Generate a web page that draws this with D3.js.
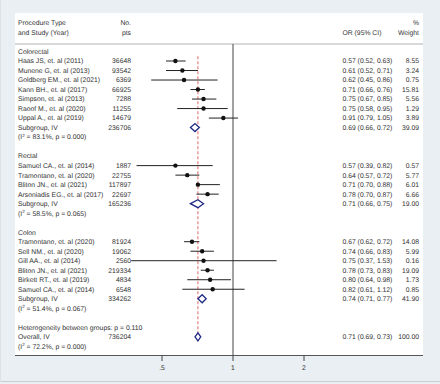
<!DOCTYPE html>
<meta charset="utf-8">
<script src="https://cdn.jsdelivr.net/npm/d3@7"></script>
<style>
  body { margin: 0; background: #fff; }
  text { font-family: "Liberation Sans", Arial, sans-serif; font-size: 6.8px; fill: #333; text-rendering: geometricPrecision; }
</style>
<body>
<script>

var width = 440
var height = 384

// subgroups
var groups = ["Colorectal", "Rectal", "Colon"]

// studies
var studyGroup = [0, 0, 0, 0, 0, 0, 0, 1, 1, 1, 1, 2, 2, 2, 2, 2, 2]
var studyNames = ["Haas JS, et. al (2011)", "Munene G, et. al (2013)", "Goldberg EM., et. al (2021)",
  "Kann BH., et. al (2017)", "Simpson, et. al (2013)", "Raoof M., et. al (2020)", "Uppal A., et. al (2019)",
  "Samuel CA., et. al (2014)", "Tramontano, et. al (2020)", "Bliton JN., et. al (2021)", "Arsoniadis EG., et. al (2017)",
  "Tramontano, et. al (2020)", "Sell NM., et. al (2020)", "Gill AA., et. al (2014)", "Bliton JN., et. al (2021)",
  "Birkett RT., et. al (2019)", "Samuel CA., et. al (2014)"]
var studyPts = [36648, 93542, 6369, 66925, 7288, 11255, 14679, 1887, 22755, 117897, 22697, 81924, 19062, 2560, 219334, 4834, 6548]
var studyOR = [0.57, 0.61, 0.62, 0.71, 0.75, 0.75, 0.91, 0.57, 0.64, 0.71, 0.78, 0.67, 0.74, 0.75, 0.78, 0.80, 0.82]
var studyLo = [0.52, 0.52, 0.45, 0.66, 0.67, 0.58, 0.79, 0.39, 0.57, 0.70, 0.70, 0.62, 0.66, 0.37, 0.73, 0.64, 0.61]
var studyHi = [0.63, 0.71, 0.86, 0.76, 0.85, 0.95, 1.05, 0.82, 0.72, 0.88, 0.87, 0.72, 0.83, 1.53, 0.83, 0.98, 1.12]
var studyWt = [8.55, 3.24, 0.75, 15.81, 5.56, 1.29, 3.89, 0.57, 5.77, 6.01, 6.66, 14.08, 5.99, 0.16, 19.09, 1.73, 0.85]

// subgroup pooled results
var subPts = [236706, 165236, 334262]
var subOR = [0.69, 0.71, 0.74]
var subLo = [0.66, 0.66, 0.71]
var subHi = [0.72, 0.75, 0.77]
var subWt = [39.09, 19.00, 41.90]
var subI2 = ["83.1", "58.5", "51.4"]
var subP = ["0.000", "0.065", "0.067"]

// overall
var hetP = "0.110"
var overallPts = 736204
var overallOR = 0.71, overallLo = 0.69, overallHi = 0.73, overallWt = 100.00
var overallI2 = "72.2", overallP = "0.000"

var xTicks = [0.5, 1, 2]

// build row list
var rows = []
groups.forEach(function(g, gi) {
  rows.push({type: "head", label: g})
  studyNames.forEach(function(n, i) {
    if (studyGroup[i] != gi) return
    rows.push({type: "study", label: n, pts: studyPts[i], or: studyOR[i], lo: studyLo[i], hi: studyHi[i], wt: studyWt[i]})
  })
  rows.push({type: "sub", label: "Subgroup, IV", pts: subPts[gi], or: subOR[gi], lo: subLo[gi], hi: subHi[gi], wt: subWt[gi]})
  rows.push({type: "i2", i2: subI2[gi], p: subP[gi]})
  rows.push({type: "blank"})
})
rows.push({type: "head", label: "Heterogeneity between groups: p = " + hetP})
rows.push({type: "sub", label: "Overall, IV", pts: overallPts, or: overallOR, lo: overallLo, hi: overallHi, wt: overallWt, overall: true})
rows.push({type: "i2", i2: overallI2, p: overallP})
rows.forEach(function(r, i) { r.idx = i })

var x = d3.scaleLog().base(2).domain([0.5, 2]).range([162, 304])
var y = d3.scaleLinear().domain([0, rows.length - 1]).range([51.5, 346.3])
var f2 = d3.format(".2f")

var svg = d3.select("body").append("svg")
  .attr("width", width).attr("height", height)

// backgrounds
svg.append("rect").attr("width", width).attr("height", height).attr("fill", "#e9eff3")
svg.append("line").attr("x1", 0).attr("x2", width).attr("y1", 381.5).attr("y2", 381.5).attr("stroke", "#c9cdd0")
svg.append("line").attr("x1", 0.5).attr("x2", 0.5).attr("y1", 0).attr("y2", 382).attr("stroke", "#dde2e5")

var panelTop = 13, panelLeft = 15, panelRight = 423
var axisY = y(rows.length - 1) + 9.2
var divY = y(0) - 7.5
svg.append("rect").attr("x", panelLeft).attr("y", panelTop)
  .attr("width", panelRight - panelLeft).attr("height", axisY - panelTop).attr("fill", "#fff")

// header
var hdr = svg.append("g")
hdr.append("text").attr("x", 18).attr("y", 23).attr("dy", ".35em").text("Procedure Type")
hdr.append("text").attr("x", 18).attr("y", 33).attr("dy", ".35em").text("and Study (Year)")
hdr.append("text").attr("x", 131).attr("y", 23).attr("dy", ".35em").attr("text-anchor", "end").text("No.")
hdr.append("text").attr("x", 131).attr("y", 33).attr("dy", ".35em").attr("text-anchor", "end").text("pts")
hdr.append("text").attr("x", 342.5).attr("y", 33).attr("dy", ".35em").text("OR (95% CI)")
hdr.append("text").attr("x", 419).attr("y", 23).attr("dy", ".35em").attr("text-anchor", "end").text("%")
hdr.append("text").attr("x", 419).attr("y", 33).attr("dy", ".35em").attr("text-anchor", "end").text("Weight")

svg.append("line").attr("x1", panelLeft).attr("x2", panelRight).attr("y1", divY).attr("y2", divY)
  .attr("stroke", "#a0a0a0").attr("stroke-width", 0.8)

// null line
svg.append("line").attr("x1", x(1)).attr("x2", x(1)).attr("y1", divY).attr("y2", axisY)
  .attr("stroke", "#444").attr("stroke-width", 1)

// overall effect dashed line
svg.append("line").attr("x1", x(overallOR)).attr("x2", x(overallOR))
  .attr("y1", y(0.5)).attr("y2", y(rows.length - 1.5))
  .attr("stroke", "#d9534f").attr("stroke-width", 0.9).attr("stroke-dasharray", "3,2")

// text columns
var txt = svg.append("g")
rows.forEach(function(r) {
  var yy = y(r.idx)
  if (r.type == "head" || r.type == "study" || r.type == "sub") {
    txt.append("text").attr("x", 18).attr("y", yy).attr("dy", ".35em").text(r.label)
  }
  if (r.type == "study" || r.type == "sub") {
    txt.append("text").attr("x", 131).attr("y", yy).attr("dy", ".35em").attr("text-anchor", "end").text(r.pts)
    txt.append("text").attr("x", 342.5).attr("y", yy).attr("dy", ".35em")
      .text(f2(r.or) + " (" + f2(r.lo) + ", " + f2(r.hi) + ")")
    txt.append("text").attr("x", 419).attr("y", yy).attr("dy", ".35em").attr("text-anchor", "end").text(f2(r.wt))
  }
  if (r.type == "i2") {
    var t = txt.append("text").attr("x", 18).attr("y", yy).attr("dy", ".35em")
    t.append("tspan").text("(I")
    t.append("tspan").attr("dy", "-2.5").style("font-size", "4.5px").text("2")
    t.append("tspan").attr("dy", "2.5").text(" = " + r.i2 + "%, p = " + r.p + ")")
  }
})

// CIs and point estimates
var studies = rows.filter(function(r) { return r.type == "study" })
svg.append("g").selectAll("line").data(studies).join("line")
  .attr("x1", function(d) { return x(d.lo) }).attr("x2", function(d) { return x(d.hi) })
  .attr("y1", function(d) { return y(d.idx) }).attr("y2", function(d) { return y(d.idx) })
  .attr("stroke", "#222").attr("stroke-width", 1)
svg.append("g").selectAll("circle").data(studies).join("circle")
  .attr("cx", function(d) { return x(d.or) }).attr("cy", function(d) { return y(d.idx) })
  .attr("r", 2.2).attr("fill", "#111")

// diamonds
var pooled = rows.filter(function(r) { return r.type == "sub" })
svg.append("g").selectAll("path").data(pooled).join("path")
  .attr("d", function(d) {
    var yy = y(d.idx), h = 4
    return "M" + x(d.lo) + "," + yy + "L" + x(d.or) + "," + (yy - h) +
      "L" + x(d.hi) + "," + yy + "L" + x(d.or) + "," + (yy + h) + "Z"
  })
  .attr("fill", "#fff").attr("stroke", "#1f2a85").attr("stroke-width", 1.3)

// axis
var axis = svg.append("g").attr("transform", "translate(0," + axisY + ")")
axis.append("line").attr("x1", panelLeft).attr("x2", panelRight).attr("stroke", "#555").attr("stroke-width", 1)
axis.selectAll(".tick").data(xTicks).join("line")
  .attr("x1", function(d) { return x(d) }).attr("x2", function(d) { return x(d) })
  .attr("y1", 0).attr("y2", 5.5).attr("stroke", "#444")
axis.selectAll(".lab").data(xTicks).join("text")
  .attr("x", function(d) { return x(d) }).attr("y", 12).attr("dy", ".35em").attr("text-anchor", "middle")
  .text(function(d) { return d < 1 ? String(d).replace(/^0/, "") : d })

</script>
</body>
